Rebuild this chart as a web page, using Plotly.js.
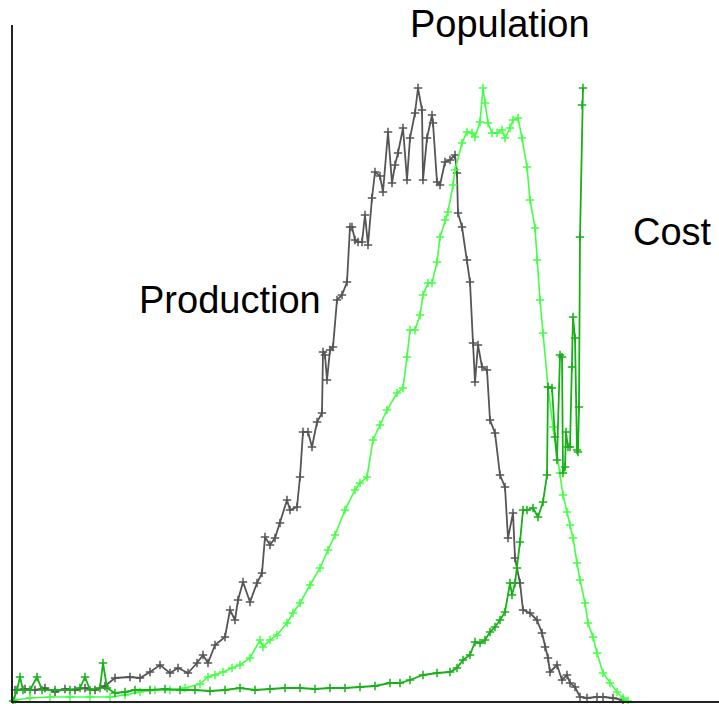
<!DOCTYPE html>
<html>
<head>
<meta charset="utf-8">
<script src="https://cdn.plot.ly/plotly-3.0.1.min.js"></script>
<style>html,body{margin:0;padding:0;background:#fff;}#chart{width:719px;height:704px;}</style>
</head>
<body>
<div id="chart"></div>
<script>
// Production (dark gray)
const productionX = [2,12,22,32,42,52,62,72,82,92,102,117,127,137,147,157,165,175,184,190,195,202,212,217,222,225,230,237,244,249,252,257,262,267,274,277,284,287,290,295,299,304,309,310,312,314,317,320,324,329,334,337,339,342,345,349,352,355,359,362,367,370,375,379,382,385,390,394,397,402,405,409,410,414,419,420,424,427,432,437,442,444,445,449,454,457,460,462,465,469,474,477,482,487,492,495,500,502,507,510,517,524,529,532,535,537,544,549,554,557,562,567,574,584,590,600,610];
const productionY = [11,12,11,13,9,12,11,13,11,15,23,24,23,29,36,28,33,28,38,46,38,56,64,91,81,101,119,99,118,128,164,156,163,178,201,191,194,224,269,269,254,279,288,349,346,321,351,354,401,406,419,474,474,461,459,459,486,456,503,529,525,509,569,518,536,548,573,521,563,588,613,591,521,563,586,578,519,516,539,541,546,528,488,474,441,419,358,319,356,334,331,281,268,226,214,163,188,143,118,91,88,81,68,54,43,29,36,21,26,18,14,4,3,4,4,3,1];

// Population (light green)
const populationX = [2,17,37,57,77,97,112,127,142,157,172,187,195,202,210,219,227,237,247,250,257,264,274,280,287,297,307,315,322,332,342,347,354,360,367,374,384,390,394,397,402,407,410,415,419,424,427,432,435,440,442,449,454,459,462,467,470,472,475,479,484,489,492,497,500,505,509,514,517,522,524,527,530,535,540,547,550,554,557,560,564,567,572,575,580,584,590,597,604,610,615];
const populationY = [1,3,4,4,4,4,6,9,11,11,13,17,24,26,29,33,36,43,61,54,61,66,78,88,98,116,133,151,166,191,211,218,224,261,276,291,308,313,344,371,371,386,406,418,418,439,464,481,489,516,531,558,569,568,564,579,613,598,578,568,568,571,563,573,581,583,563,534,501,473,441,401,368,314,274,228,206,189,176,163,138,121,98,78,64,48,28,18,9,3,0];

// Cost (green)
const costX = [0,4,7,10,17,24,29,42,57,67,72,77,87,90,94,102,112,122,137,152,167,182,197,212,227,242,257,272,287,302,317,332,347,362,377,387,397,410,424,437,444,450,457,462,467,472,477,482,487,492,497,499,502,504,507,510,514,520,525,530,534,535,539,542,544,547,549,550,552,553,555,557,559,560,562,564,565,566,567,569,570];
const costY = [0,11,24,11,11,24,11,11,11,13,24,11,13,38,13,8,9,11,11,12,11,11,10,11,13,11,12,13,13,12,13,13,14,15,18,18,21,26,28,29,33,41,46,59,58,61,69,74,81,89,118,106,118,133,159,191,191,193,184,199,226,314,313,264,241,346,344,228,234,269,254,254,334,384,363,251,249,294,464,596,613];

const seriesNames = ["Production", "Population", "Cost"];

function tr(x, y, color, width) {
  return {
    x: x, y: y, type: 'scatter', mode: 'lines+markers',
    line: {color: color, width: width},
    marker: {symbol: 'cross-thin-open', size: 6, line: {color: color, width: 1.5}},
    hoverinfo: 'skip', showlegend: false, cliponaxis: false
  };
}

const data = [
  tr(productionX, productionY, '#555555', 1.8),
  tr(populationX, populationY, '#44ff44', 1.6),
  tr(costX, costY, '#18b018', 1.8)
];

const annFont = {family: 'Liberation Sans, Arial, sans-serif', size: 38, color: '#000'};
const layout = {
  width: 719, height: 704,
  margin: {l: 13, r: 0, t: 25, b: 3, pad: 0},
  paper_bgcolor: '#ffffff', plot_bgcolor: '#ffffff',
  showlegend: false,
  xaxis: {range: [0, 706], showgrid: false, zeroline: false, showticklabels: false, ticks: '',
          showline: true, linecolor: '#222', linewidth: 2, fixedrange: true},
  yaxis: {range: [0, 676], showgrid: false, zeroline: false, showticklabels: false, ticks: '',
          showline: true, linecolor: '#222', linewidth: 2, fixedrange: true},
  annotations: [
    {text: seriesNames[1], x: 0.6898, y: 1.0015, xref: 'paper', yref: 'paper', showarrow: false, font: annFont, xanchor: 'center', yanchor: 'middle'},
    {text: seriesNames[2], x: 0.9348, y: 0.6938, xref: 'paper', yref: 'paper', showarrow: false, font: annFont, xanchor: 'center', yanchor: 'middle'},
    {text: seriesNames[0], x: 0.3074, y: 0.5932, xref: 'paper', yref: 'paper', showarrow: false, font: annFont, xanchor: 'center', yanchor: 'middle'}
  ]
};

Plotly.newPlot('chart', data, layout, {staticPlot: true, displayModeBar: false});
</script>
</body>
</html>
